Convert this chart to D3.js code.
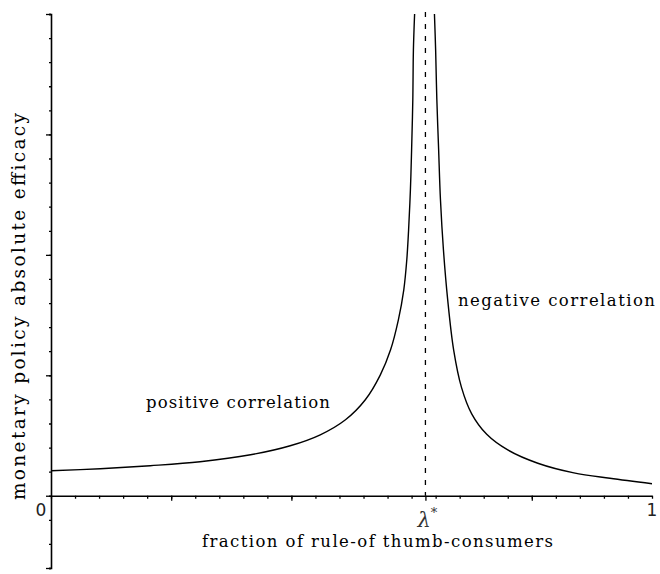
<!DOCTYPE html>
<html lang="en">
<head>
    <meta charset="UTF-8">
    <title>monetary policy efficacy</title>
    <script src="https://cdn.jsdelivr.net/npm/d3@7"></script>
</head>
<body style="margin:0; background:#fff;">
<script>
    // curve: lambda (share of rule-of-thumb consumers) vs efficacy
    const leftLambda = [0, 0.082, 0.165, 0.248, 0.332, 0.398, 0.448, 0.490, 0.523, 0.548, 0.565, 0.578, 0.587, 0.592, 0.595, 0.598, 0.600, 0.602, 0.603, 0.605]
    const leftValue = [0.207, 0.224, 0.249, 0.282, 0.340, 0.415, 0.506, 0.631, 0.797, 1.004, 1.212, 1.461, 1.710, 1.959, 2.207, 2.539, 2.871, 3.286, 3.701, 4.0]
    const rightLambda = [0.638, 0.640, 0.642, 0.645, 0.648, 0.653, 0.660, 0.670, 0.683, 0.700, 0.725, 0.760, 0.810, 0.870, 0.930, 1.0]
    const rightValue = [4.0, 3.70, 3.29, 2.87, 2.46, 2.04, 1.63, 1.21, 0.90, 0.68, 0.51, 0.38, 0.27, 0.19, 0.145, 0.10]
    const lambdaStar = 0.623

    const xMinorTicks = d3.range(0, 1.0001, 0.04)
    const xMajorTicks = [0.2, 0.4, 0.8]
    const yMinorTicks = d3.range(-0.6, 4.0001, 0.2)
    const yMajorTicks = [-0.6, 0, 1, 2, 3, 4]
    const xLabels = [[0, "0"], [1, "1"]]

    const width = 660, height = 574
    const x = d3.scaleLinear().domain([0, 1]).range([51, 652])
    const y = d3.scaleLinear().domain([-0.6, 4]).range([568, 14])

    const svg = d3.select("body").append("svg")
        .attr("width", width)
        .attr("height", height)
        .style("display", "block")
        .style("background", "#fff")

    const font = "'DejaVu Serif', serif"

    // y axis, ticks to the left
    svg.append("g").attr("transform", `translate(${x(0)},0)`)
        .call(d3.axisLeft(y).tickValues(yMinorTicks).tickSize(2).tickFormat(""))
    const yMajor = svg.append("g").attr("transform", `translate(${x(0)},0)`)
        .call(d3.axisLeft(y).tickValues(yMajorTicks).tickSize(5).tickFormat("").tickSizeOuter(0))
    yMajor.select(".domain").remove()

    // x axis at value 0, ticks pointing down
    svg.append("g").attr("transform", `translate(0,${y(0)})`)
        .call(d3.axisBottom(x).tickValues(xMinorTicks).tickSize(3).tickFormat("").tickSizeOuter(0))
    const xMajor = svg.append("g").attr("transform", `translate(0,${y(0)})`)
        .call(d3.axisBottom(x).tickValues(xMajorTicks.concat([lambdaStar])).tickSize(5).tickFormat(""))
    xMajor.select(".domain").remove()

    svg.selectAll(".domain").attr("stroke", "#000").attr("stroke-width", 1.6)
    svg.selectAll(".tick line").attr("stroke", "#000").attr("stroke-width", 1.3)

    // dashed asymptote
    svg.append("line")
        .attr("x1", x(lambdaStar)).attr("x2", x(lambdaStar))
        .attr("y1", y(4) - 2).attr("y2", y(0))
        .attr("stroke", "#000")
        .attr("stroke-width", 1.3)
        .attr("stroke-dasharray", "5,7")

    const line = d3.line().x(d => x(d[0])).y(d => y(d[1])).curve(d3.curveCatmullRom.alpha(0.5))
    const left = leftLambda.map((l, i) => [l, leftValue[i]])
    const right = rightLambda.map((l, i) => [l, rightValue[i]])
    svg.selectAll("path.curve")
        .data([left, right])
        .enter()
        .append("path")
        .attr("class", "curve")
        .attr("d", line)
        .attr("fill", "none")
        .attr("stroke", "#000")
        .attr("stroke-width", 1.4)

    // tick labels
    svg.selectAll("text.xlab")
        .data(xLabels)
        .enter()
        .append("text")
        .attr("class", "xlab")
        .attr("x", d => x(d[0]) + (d[0] === 0 ? -10 : 0))
        .attr("y", 516)
        .attr("text-anchor", "middle")
        .style("font-family", "'DejaVu Sans', sans-serif")
        .style("font-size", "17px")
        .attr("fill", "#222")
        .text(d => d[1])

    const star = svg.append("text")
        .attr("x", x(lambdaStar) + 2)
        .attr("y", 527)
        .attr("text-anchor", "middle")
        .style("font-family", font)
        .style("font-size", "21px")
        .style("font-style", "italic")
        .attr("fill", "#333")
    star.append("tspan").text("λ")
    star.append("tspan").attr("dy", -10).style("font-size", "13px").style("font-style", "normal").text("*")

    const label = (txt, x0, yb, len) => svg.append("text")
        .attr("x", x0).attr("y", yb)
        .attr("textLength", len)
        .attr("lengthAdjust", "spacing")
        .style("font-family", font)
        .style("font-size", "16.5px")
        .attr("fill", "#000")
        .text(txt)

    label("positive correlation", 146, 408, 184)
    label("negative correlation", 458, 306, 197)
    label("fraction of rule-of thumb-consumers", 202, 547, 351)

    svg.append("text")
        .attr("transform", "translate(25,500) rotate(-90)")
        .attr("textLength", 387)
        .attr("lengthAdjust", "spacing")
        .style("font-family", font)
        .style("font-size", "18.5px")
        .attr("fill", "#000")
        .text("monetary policy absolute efficacy")
</script>
</body>
</html>
